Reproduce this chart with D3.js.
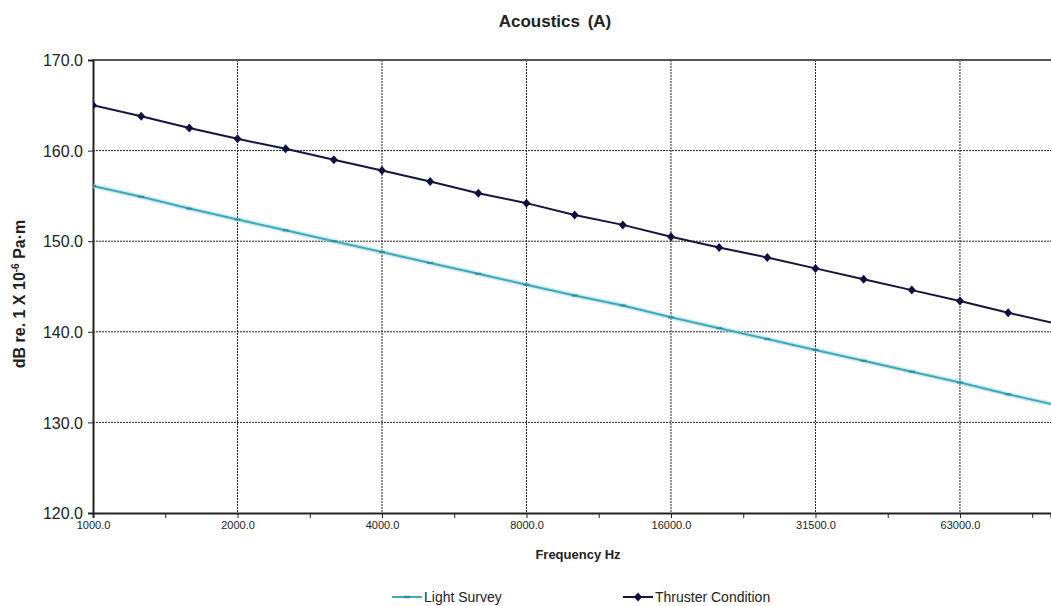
<!DOCTYPE html>
<html>
<head>
<meta charset="utf-8">
<script src="https://cdn.jsdelivr.net/npm/d3@7"></script>
<style>
  body { margin: 0; background: #fff; }
  svg { display: block; font-family: "Liberation Sans", Arial, sans-serif; }
</style>
</head>
<body>
<svg width="1051" height="606"></svg>
<script>
// one-third octave band centre frequencies
const freqs = [1000, 1250, 1600, 2000, 2500, 3150, 4000, 5000, 6300, 8000, 10000,
    12500, 16000, 20000, 25000, 31500, 40000, 50000, 63000, 80000, 100000];
const lightSurvey = [156.1, 154.9, 153.6, 152.4, 151.2, 150.0, 148.8, 147.6, 146.4, 145.2, 144.0,
    142.9, 141.6, 140.4, 139.2, 138.0, 136.8, 135.6, 134.4, 133.1, 131.9];
const thruster = [165.0, 163.8, 162.5, 161.3, 160.2, 159.0, 157.8, 156.6, 155.3, 154.2, 152.9,
    151.8, 150.5, 149.3, 148.2, 147.0, 145.8, 144.6, 143.4, 142.1, 140.9];
const xLabels = ["1000.0", "2000.0", "4000.0", "8000.0", "16000.0", "31500.0", "63000.0"];
const yTicks = [120, 130, 140, 150, 160, 170];

const svg = d3.select("svg");
const pLeft = 93, pRight = 1051, pTop = 60, pBottom = 513;

// category index -> x; the plot is cut off a little before the last band
let x = d3.scaleLinear().domain([0, 19.89]).range([pLeft, pRight]);
let y = d3.scaleLinear().domain([120, 170]).range([pBottom, pTop]);

const majorIdx = xLabels.map((d, i) => i * 3);
const minorIdx = majorIdx.map(i => i + 1.5);

// grid
svg.append("g").selectAll("line")
    .data(yTicks.filter(d => d > 120 && d < 170))
    .enter().append("line")
    .attr("x1", pLeft).attr("x2", pRight)
    .attr("y1", d => y(d)).attr("y2", d => y(d))
    .attr("stroke", "#222").attr("stroke-width", 1).attr("stroke-dasharray", "2,1");

svg.append("g").selectAll("line")
    .data(majorIdx.slice(1))
    .enter().append("line")
    .attr("x1", d => x(d)).attr("x2", d => x(d))
    .attr("y1", pTop).attr("y2", pBottom)
    .attr("stroke", "#222").attr("stroke-width", 1).attr("stroke-dasharray", "2,1");

// frame
svg.append("line").attr("x1", pLeft).attr("x2", pRight).attr("y1", pTop).attr("y2", pTop)
    .attr("stroke", "#555").attr("stroke-width", 2);

// y axis
const yAxis = svg.append("g")
    .attr("transform", `translate(${pLeft},0)`)
    .call(d3.axisLeft(y).tickValues(yTicks).tickSize(5).tickFormat(d3.format(".1f")));
yAxis.select(".domain").attr("stroke", "#222").attr("stroke-width", 2);
yAxis.selectAll(".tick line").attr("stroke", "#222");
yAxis.selectAll("text").attr("font-size", "16px").attr("fill", "#222")
    .attr("font-family", "Liberation Sans, Arial, sans-serif").attr("x", -10).attr("dy", "0.36em");

// x axis
const xAxis = svg.append("g")
    .attr("transform", `translate(0,${pBottom})`)
    .call(d3.axisBottom(x).tickValues(majorIdx.concat(minorIdx).sort((a, b) => a - b))
        .tickSize(5)
        .tickFormat(d => Number.isInteger(d) ? xLabels[d / 3] : ""));
xAxis.select(".domain").attr("stroke", "#222").attr("stroke-width", 2);
xAxis.selectAll(".tick line").attr("stroke", "#222");
xAxis.selectAll("text").attr("font-size", "11px").attr("fill", "#222")
    .attr("font-family", "Liberation Sans, Arial, sans-serif").attr("y", 8);

// clip to plot area
svg.append("clipPath").attr("id", "plot")
    .append("rect").attr("x", pLeft).attr("y", pTop - 10).attr("width", pRight - pLeft).attr("height", pBottom - pTop + 20);

const line = d3.line().x((d, i) => x(i)).y(d => y(d));
const plot = svg.append("g").attr("clip-path", "url(#plot)");

// light survey with a soft halo
plot.append("path").datum(lightSurvey)
    .attr("d", line).attr("fill", "none")
    .attr("stroke", "#9fdbe3").attr("stroke-width", 5).attr("stroke-opacity", 0.5);
plot.append("path").datum(lightSurvey)
    .attr("d", line).attr("fill", "none")
    .attr("stroke", "#3fa9b9").attr("stroke-width", 2);
plot.selectAll(".lsm").data(lightSurvey)
    .enter().append("line").attr("class", "lsm")
    .attr("x1", (d, i) => x(i) - 3).attr("x2", (d, i) => x(i) + 3)
    .attr("y1", d => y(d)).attr("y2", d => y(d))
    .attr("stroke", "#2c8f9f").attr("stroke-width", 2);

// thruster condition
plot.append("path").datum(thruster)
    .attr("d", line).attr("fill", "none")
    .attr("stroke", "#15153f").attr("stroke-width", 2);
const diamond = "M0,-4.5L4,0L0,4.5L-4,0Z";
plot.selectAll(".thm").data(thruster)
    .enter().append("path").attr("class", "thm")
    .attr("d", diamond)
    .attr("transform", (d, i) => `translate(${x(i)},${y(d)})`)
    .attr("fill", "#0e0e45");

// titles
svg.append("text").attr("x", 555).attr("y", 27).attr("text-anchor", "middle")
    .attr("font-size", "17px").attr("font-weight", "bold").attr("word-spacing", "3px")
    .attr("fill", "#222").text("Acoustics (A)");

svg.append("text").attr("x", 578).attr("y", 559).attr("text-anchor", "middle")
    .attr("font-size", "13px").attr("font-weight", "bold")
    .attr("fill", "#222").text("Frequency Hz");

const yt = svg.append("text").attr("transform", "translate(25,294) rotate(-90)")
    .attr("text-anchor", "middle").attr("font-size", "16px").attr("font-weight", "bold")
    .attr("fill", "#222");
yt.append("tspan").text("dB re. 1 X 10");
yt.append("tspan").attr("font-size", "10px").attr("dy", -6).text("-6");
yt.append("tspan").attr("dy", 6).text(" Pa\u00b7m");

// legend
const legend = [
    {name: "Light Survey", color: "#3fa9b9", x: 392},
    {name: "Thruster Condition", color: "#15153f", x: 623}
];
const lg = svg.selectAll(".legend").data(legend).enter().append("g").attr("class", "legend")
    .attr("transform", d => `translate(${d.x},597)`);
lg.append("line").attr("x1", 0).attr("x2", 30).attr("y1", 0).attr("y2", 0)
    .attr("stroke", d => d.color).attr("stroke-width", 2);
lg.filter((d, i) => i === 0).append("line").attr("x1", 12).attr("x2", 18)
    .attr("y1", 0).attr("y2", 0).attr("stroke", "#2c8f9f").attr("stroke-width", 2.5);
lg.filter((d, i) => i === 1).append("path").attr("d", diamond)
    .attr("transform", "translate(15,0)").attr("fill", "#0e0e45");
lg.append("text").attr("x", 32).attr("y", 5).attr("font-size", "14px").attr("fill", "#222")
    .text(d => d.name);
</script>
</body>
</html>
